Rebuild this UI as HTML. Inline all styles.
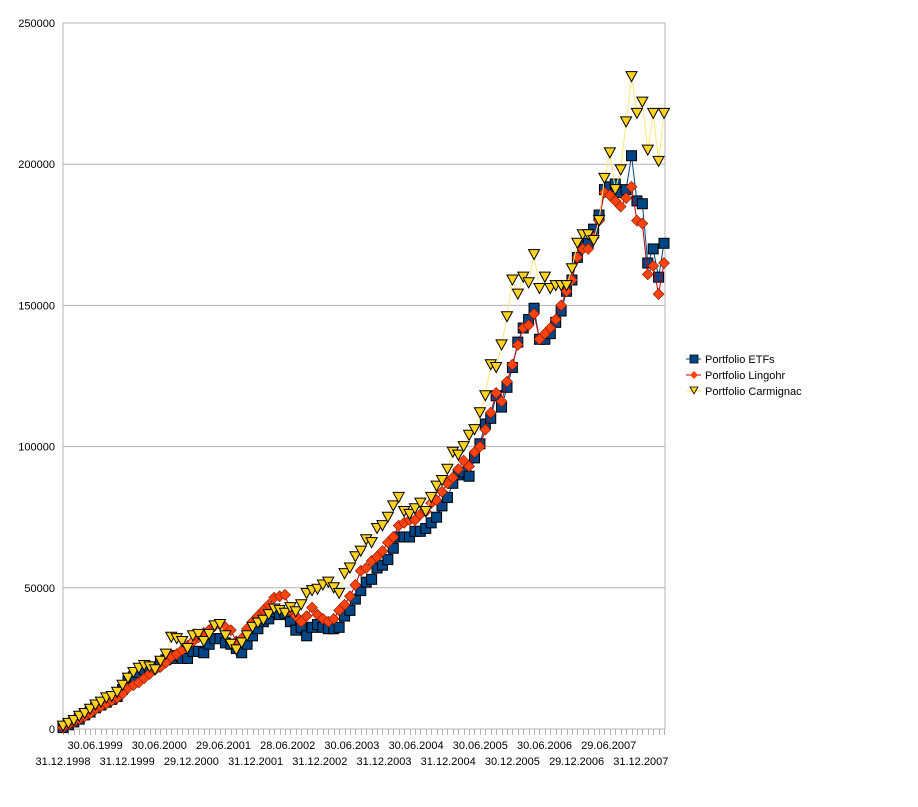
<!DOCTYPE html>
<html><head><meta charset="utf-8"><style>
body{margin:0;background:#fff;font-family:"Liberation Sans",sans-serif}
svg text{font-family:"Liberation Sans",sans-serif;font-size:11px;fill:#000}
</style></head><body>
<svg id="chart" width="918" height="802" xmlns="http://www.w3.org/2000/svg"></svg>
<script>
const yTicks=[0,50000,100000,150000,200000,250000];
const xLabels=["31.12.1998","30.06.1999","31.12.1999","30.06.2000","29.12.2000","29.06.2001","31.12.2001","28.06.2002","31.12.2002","30.06.2003","31.12.2003","30.06.2004","31.12.2004","30.06.2005","30.12.2005","30.06.2006","29.12.2006","29.06.2007","31.12.2007"];
const seriesNames=["Portfolio ETFs","Portfolio Lingohr","Portfolio Carmignac"];
const etf=[0.5,1.5,2.5,3.5,5,6,7.5,8.5,9.5,10.5,11.5,14,17,18.5,20,21,21.5,22,23.5,24.5,25,26,25,25,27.5,27.5,27,30,32,32,30.5,30,28.5,27,30,33,35.5,38,39,41.5,40.5,41,38,35,36,33,36,37,36,35.5,35.5,36,40,42,46,49,52,53,57,58,60,64,68,68,68,70,70,71,73,75,79,82,87,90,91,89.5,96,101,108,110,118,114,121,128,137,142,145,149,138,138,140,144,148,155,159,167,171,172,177,182,191,192,193,190,191,203,187,186,165,170,160,172];
const lingohr=[0.5,1.5,2.5,3.5,4.5,5.5,7,8,9,10,11,12.5,14.5,15.5,16.5,18,19.5,21,22,23.5,25.5,26.5,28,29.5,31,32.5,34,35,36.5,37,36,35,31,32,35.5,38,40,42,44,46.5,47,47.5,42,40,38,40,43,40.5,39,38,39,42,44,47,51,56,57,59.5,61,63,66,68,72,73,74,74,76,77,80,81,84,87,89,92,95,93,98,100,106,112,119,116,123,129,136,142,143,147,138,140,142,145,150,155,159,167,170,170,174,180,190,189,187,185,188,192,180,179,161,164,154,165];
const carmignac=[1,2,3,4.5,5.5,7,8.5,9.5,11,11.5,13,15.5,18,20,21.5,22.5,22,21,24,26.5,32.5,32,31,28.5,33,33.5,31,33.5,36.5,37,33,30,28,30.5,33,36,37.5,38.5,40.5,42.5,42,41,43,41.5,44,48,49,49.5,51,52,50,48,55,57,61,63,67,66,71,72,75,79,82,77,76,78,80,77,82,86,88,92,98,97,100,104,106,112,118,129,128,136,146,159,154,160,158,168,156,160,156,157,157,157,163,172,175,175,173,180,195,204,191,198,215,231,218,222,205,218,201,218];
const svg=document.getElementById('chart');
const NS="http://www.w3.org/2000/svg";
const X0=63,X1=665,Y0=729,Y1=23;
const n=etf.length;
function xs(i){return X0+i*(X1-1-X0)/(n-1);}
function xl(k){return X0+k*32.1;}
function ys(v){return Y0-(v/250000)*(Y0-Y1);}
function mk(tag,attrs,parent){const e=document.createElementNS(NS,tag);for(const k in attrs)e.setAttribute(k,attrs[k]);(parent||svg).appendChild(e);return e;}
yTicks.forEach(t=>{
  const y=ys(t);
  if(t>0){const g=mk('line',{x1:X0,x2:X1,y1:y,y2:y,stroke:'#b3b3b3','stroke-width':1});
  
  }
  const tx=mk('text',{x:55,y:y+4,'text-anchor':'end'});tx.textContent=t;
  
  
});
const ax=mk('line',{x1:X0,x2:X0,y1:Y1,y2:Y0,stroke:'#b3b3b3'});


const rb=mk('line',{x1:X1,x2:X1,y1:Y1,y2:Y0,stroke:'#b3b3b3'});


const xa=mk('line',{x1:X0,x2:X1,y1:Y0,y2:Y0,stroke:'#b3b3b3'});


for(let i=0;i<n;i++){const x=Math.round(xs(i))+0.5;const t=mk('line',{x1:x,x2:x,y1:Y0,y2:Y0+6,stroke:'#b3b3b3'});

}
xLabels.forEach((l,k)=>{
  const t=mk('text',{x:xl(k),y:(k%2?749:765),'text-anchor':'middle'});t.textContent=l;
  
  
});
const cols=[['#004586','#004586'],['#ff420e','#c5000b'],['#ffd320','#ffe775']];
function marker(kind,x,y,parent){
  if(kind===0)return mk('rect',{x:x-5,y:y-5,width:10,height:10,fill:cols[0][0],stroke:'#000','stroke-width':1},parent);
  if(kind===1)return mk('polygon',{points:`${x},${y-5.5} ${x+5.5},${y} ${x},${y+5.5} ${x-5.5},${y}`,fill:cols[1][0],stroke:'#7a1a00','stroke-width':0.6},parent);
  return mk('polygon',{points:`${x-5.5},${y-5} ${x+5.5},${y-5} ${x},${y+5}`,fill:cols[2][0],stroke:'#000','stroke-width':1},parent);
}
[etf,lingohr,carmignac].forEach((arr,s)=>{
  const g=mk('g',{});
  
  
  const pts=arr.map((v,i)=>xs(i)+','+ys(v*1000)).join(' ');
  const pl=mk('polyline',{points:pts,fill:'none',stroke:cols[s][1],'stroke-width':1},g);
  
  
  arr.forEach((v,i)=>{const m=marker(s,xs(i),ys(v*1000),g);
    
    });
});
seriesNames.forEach((nm,s)=>{
  const y=359+s*16;
  const g=mk('g',{});
  
  
  mk('line',{x1:686,x2:701,y1:y,y2:y,stroke:cols[s][1]},g);
  if(s===0)mk('rect',{x:690,y:y-4,width:8,height:8,fill:cols[0][0],stroke:'#000','stroke-width':0.8},g);
  if(s===1)mk('polygon',{points:`694,${y-4} 698,${y} 694,${y+4} 690,${y}`,fill:cols[1][0]},g);
  if(s===2)mk('polygon',{points:`690,${y-4} 698,${y-4} 694,${y+3}`,fill:cols[2][0],stroke:'#000','stroke-width':0.8},g);
  const t=mk('text',{x:705,y:y+4},g);t.textContent=nm;
});
</script>
</body></html>
